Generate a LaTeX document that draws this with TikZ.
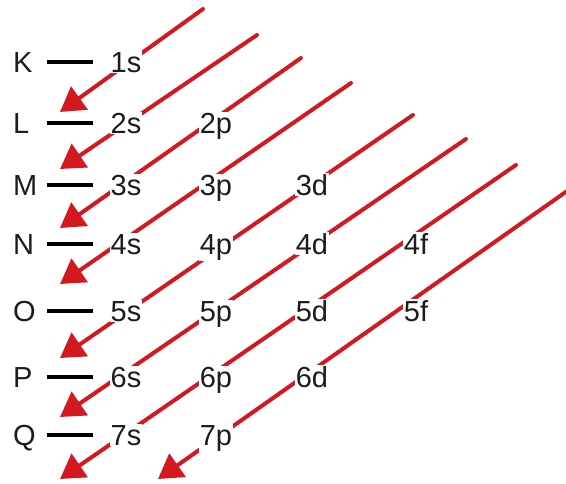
\documentclass[tikz,border=0pt]{standalone}
\usepackage{fontspec}
\setmainfont{Liberation Sans}
\usetikzlibrary{arrows.meta}
\definecolor{arrowred}{RGB}{212, 24, 32}
\definecolor{labelcolor}{RGB}{28, 28, 28}
\tikzset{
shelltext/.style={
  font=\fontsize{29}{34}\selectfont,
  text=labelcolor
},
shelllabel/.style={
  anchor=base west,
  inner sep=0pt,
  shelltext
},
orbital/.style={
  anchor=base,
  fill=white,
  inner sep=1pt,
  shelltext
},
shelldash/.style={
  draw=black,
  line width=4pt
},
fillarrow/.style={
  -{Triangle[length=24pt,width=28pt]},
  line width=4pt,
  line cap=round,
  draw=arrowred
}
}
\begin{document}
\begin{tikzpicture}[x=1pt, y=-1pt]
  \useasboundingbox (0,0) rectangle (566,483);
  % Arrow ends
  \coordinate (a1) at (203,9);   \coordinate (b1) at (60,112);
  \coordinate (a2) at (257,35);  \coordinate (b2) at (60,169);
  \coordinate (a3) at (301,58);  \coordinate (b3) at (60,228);
  \coordinate (a4) at (351,83);  \coordinate (b4) at (60,284);
  \coordinate (a5) at (413,115); \coordinate (b5) at (60,358);
  \coordinate (a6) at (466,139); \coordinate (b6) at (60,417);
  \coordinate (a7) at (516,165); \coordinate (b7) at (60,479);
  \coordinate (a8) at (570,189); \coordinate (b8) at (158,479);
  % Arrows
  \draw[fillarrow] (a1) -- (b1);
  \draw[fillarrow] (a2) -- (b2);
  \draw[fillarrow] (a3) -- (b3);
  \draw[fillarrow] (a4) -- (b4);
  \draw[fillarrow] (a5) -- (b5);
  \draw[fillarrow] (a6) -- (b6);
  \draw[fillarrow] (a7) -- (b7);
  \draw[fillarrow] (a8) -- (b8);
  % Shells
  \node[shelllabel] (K) at (13,72) {K};
  \node[shelllabel] (L) at (13,133) {L};
  \node[shelllabel] (M) at (13,195) {M};
  \node[shelllabel] (N) at (13,254) {N};
  \node[shelllabel] (O) at (13,321) {O};
  \node[shelllabel] (P) at (13,387) {P};
  \node[shelllabel] (Q) at (13,445) {Q};
  \draw[shelldash] (K.base west) ++(34,-10.5) -- ++(46,0);
  \draw[shelldash] (L.base west) ++(34,-10.5) -- ++(46,0);
  \draw[shelldash] (M.base west) ++(34,-10.5) -- ++(46,0);
  \draw[shelldash] (N.base west) ++(34,-10.5) -- ++(46,0);
  \draw[shelldash] (O.base west) ++(34,-10.5) -- ++(46,0);
  \draw[shelldash] (P.base west) ++(34,-10.5) -- ++(46,0);
  \draw[shelldash] (Q.base west) ++(34,-10.5) -- ++(46,0);
  % Orbitals
  \node[orbital] (1s) at (126,72) {1s};
  \node[orbital] (2s) at (126,133) {2s};
  \node[orbital] (2p) at (216,133) {2p};
  \node[orbital] (3s) at (126,195) {3s};
  \node[orbital] (3p) at (216,195) {3p};
  \node[orbital] (3d) at (312,195) {3d};
  \node[orbital] (4s) at (126,254) {4s};
  \node[orbital] (4p) at (216,254) {4p};
  \node[orbital] (4d) at (312,254) {4d};
  \node[orbital] (4f) at (416,254) {4f};
  \node[orbital] (5s) at (126,321) {5s};
  \node[orbital] (5p) at (216,321) {5p};
  \node[orbital] (5d) at (312,321) {5d};
  \node[orbital] (5f) at (416,321) {5f};
  \node[orbital] (6s) at (126,387) {6s};
  \node[orbital] (6p) at (216,387) {6p};
  \node[orbital] (6d) at (312,387) {6d};
  \node[orbital] (7s) at (126,445) {7s};
  \node[orbital] (7p) at (216,445) {7p};
\end{tikzpicture}
\end{document}
